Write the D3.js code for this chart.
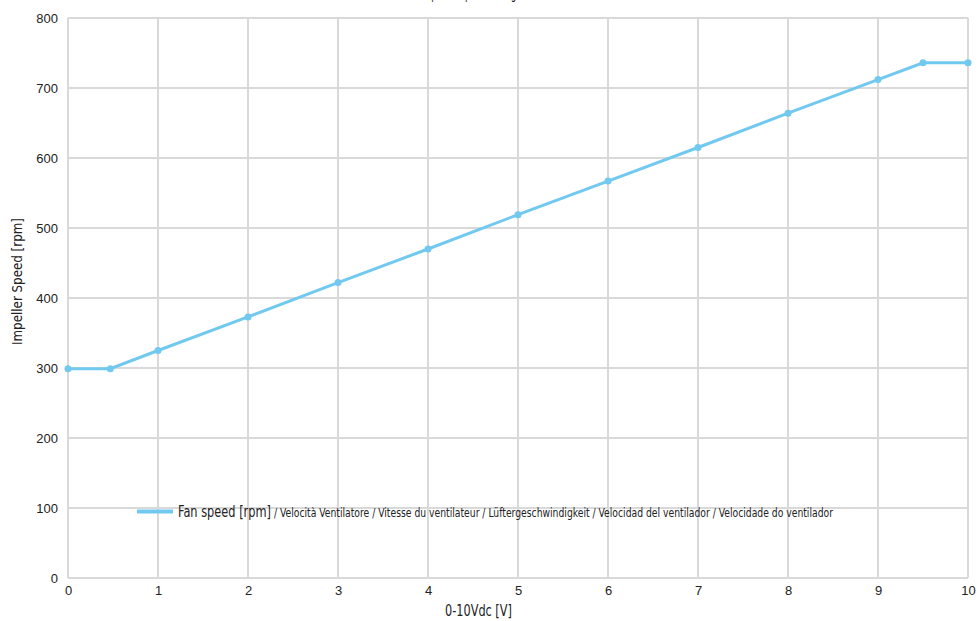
<!DOCTYPE html>
<html>
<head>
<meta charset="utf-8">
<script src="https://cdn.jsdelivr.net/npm/d3@7"></script>
<style>
  body { margin: 0; background: #fff; }
  svg { display: block; }
</style>
</head>
<body>
<svg width="978" height="621"></svg>
<script>
// Data
const voltage = [0, 0.47, 1, 2, 3, 4, 5, 6, 7, 8, 9, 9.5, 10]
const speed = [299, 299, 325, 373, 422, 470, 519, 567, 615, 664, 712, 736, 736]
const xTicks = [0, 1, 2, 3, 4, 5, 6, 7, 8, 9, 10]
const yTicks = [0, 100, 200, 300, 400, 500, 600, 700, 800]
const legendMain = 'Fan speed [rpm]'
const legendRest = ' / Velocità Ventilatore / Vitesse du ventilateur / Lüftergeschwindigkeit / Velocidad del ventilador / Velocidade do ventilador'

const svg = d3.select('svg')
const margin = { top: 18, right: 10, bottom: 43, left: 68 }
const width = 978, height = 621
const lineColor = '#71c9ef'
const condensed = '"Liberation Sans Narrow", "DejaVu Sans Condensed", "Liberation Sans", sans-serif'

const x = d3.scaleLinear().domain([0, 10]).range([margin.left, width - margin.right])
const y = d3.scaleLinear().domain([0, 800]).range([height - margin.bottom, margin.top])

// squeeze a text horizontally to a target width (the source uses a condensed face)
function squeeze(sel, w, tx, ty, rot) {
  const natural = sel.node().getBBox().width
  const k = w / natural
  sel.attr('transform', `translate(${tx},${ty})` + (rot ? ` rotate(${rot})` : '') + ` scale(${k},1)`)
}

// grid
const grid = svg.append('g')
grid.selectAll('line.v')
  .data(xTicks)
  .enter()
  .append('line')
  .attr('x1', (d) => x(d)).attr('x2', (d) => x(d))
  .attr('y1', y(0)).attr('y2', y(800))
  .attr('stroke', '#d9d9d9')
  .attr('stroke-width', 2)
grid.selectAll('line.h')
  .data(yTicks)
  .enter()
  .append('line')
  .attr('x1', x(0)).attr('x2', x(10))
  .attr('y1', (d) => y(d)).attr('y2', (d) => y(d))
  .attr('stroke', '#d9d9d9')
  .attr('stroke-width', 2)

// axes (labels only)
const xAxis = svg.append('g')
  .attr('transform', `translate(0,${y(0)})`)
  .call(d3.axisBottom(x).tickValues(xTicks).tickSize(0).tickPadding(8))
const yAxis = svg.append('g')
  .attr('transform', `translate(${x(0)},0)`)
  .call(d3.axisLeft(y).tickValues(yTicks).tickSize(0).tickPadding(10))
;[xAxis, yAxis].forEach((a) => {
  a.select('.domain').remove()
  a.selectAll('text')
    .attr('font-family', '"Liberation Sans", Arial, sans-serif')
    .attr('font-size', '13px')
    .attr('fill', '#222')
})

// line + points
const line = d3.line()
  .x((d, i) => x(voltage[i]))
  .y((d) => y(d))
svg.append('path')
  .datum(speed)
  .attr('d', line)
  .attr('fill', 'none')
  .attr('stroke', lineColor)
  .attr('stroke-width', 3)
svg.append('g')
  .selectAll('circle')
  .data(speed)
  .enter()
  .append('circle')
  .attr('cx', (d, i) => x(voltage[i]))
  .attr('cy', (d) => y(d))
  .attr('r', 3.5)
  .attr('fill', lineColor)

// axis titles
const xTitle = svg.append('text')
  .attr('font-family', condensed)
  .attr('font-size', '16px')
  .attr('fill', '#222')
  .text('0-10Vdc [V]')
squeeze(xTitle, 67, 445, 616)

const yTitle = svg.append('text')
  .attr('font-family', condensed)
  .attr('font-size', '14px')
  .attr('fill', '#222')
  .text('Impeller Speed [rpm]')
squeeze(yTitle, 127, 22, 345, -90)

// chart title, mostly cut off at the top edge as in the source
const title = svg.append('text')
  .attr('font-family', condensed)
  .attr('font-size', '15px')
  .attr('fill', '#222')
  .text('Impeller Speed vs Signal')
squeeze(title, 110, 420, -1)

// legend
svg.append('line')
  .attr('x1', 137).attr('x2', 173)
  .attr('y1', y(95)).attr('y2', y(95))
  .attr('stroke', lineColor)
  .attr('stroke-width', 4)
const lt = svg.append('text')
  .attr('font-family', condensed)
  .attr('fill', '#222')
lt.append('tspan').attr('font-size', '16px').text(legendMain)
lt.append('tspan').attr('font-size', '13px').text(legendRest)
squeeze(lt, 656, 178, y(95) + 5)
</script>
</body>
</html>
